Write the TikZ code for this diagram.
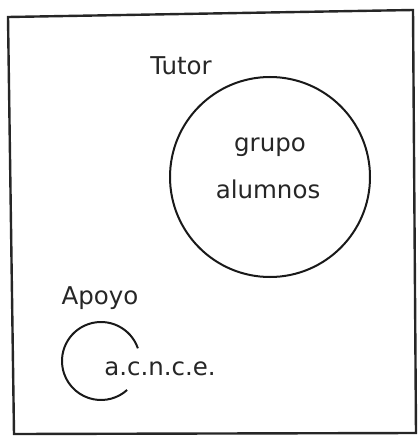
\documentclass[tikz,border=0pt]{standalone}
\usepackage{fontspec}
\setmainfont{DejaVu Sans}
\begin{document}
\begin{tikzpicture}[x=1pt,y=-1pt,
  lbl/.style={inner sep=0pt, font=\fontsize{24.5}{28}\selectfont, text=black!85},
  ring/.style={line width=2pt, black!90}]
\useasboundingbox (0,0) rectangle (419,436);
% frame
\draw[line width=2.4pt, black!85] (8,17) -- (413,10) -- (416,433) -- (14,434) -- cycle;
% big circle
\node[ring, draw, circle, minimum size=200pt, inner sep=0pt] (grupo) at (270,177) {};
\node[lbl] (t1) at (270,147) {grupo};
\node[lbl] (t2) at (268,189) {alumnos};
\node[lbl] (tutor) at (181,66) {Tutor};
\node[lbl] (apoyo) at (100,298) {Apoyo};
% small open circle
\coordinate (c) at (101,361);
\draw[ring] ([shift={(-19:39)}]c) arc[start angle=-19, end angle=-312, radius=39];
\node[lbl] (acnee) at (160,369) {a.c.n.c.e.};
\end{tikzpicture}
\end{document}
